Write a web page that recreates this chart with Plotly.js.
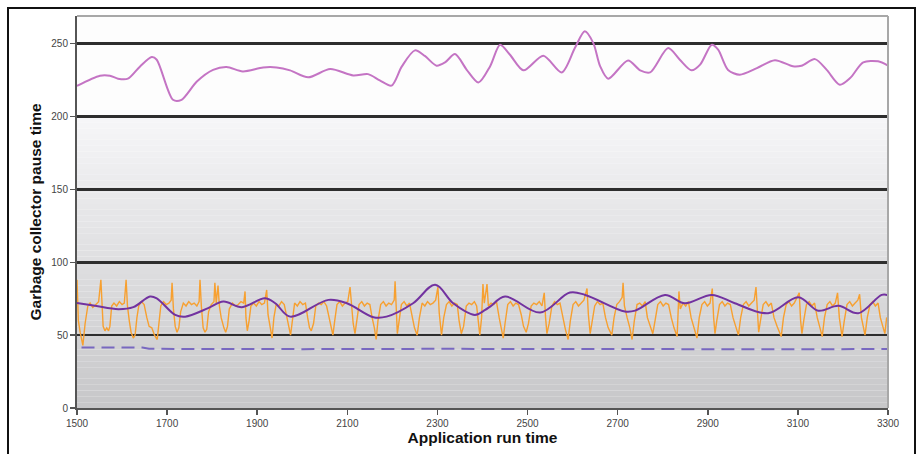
<!DOCTYPE html>
<html>
<head>
<meta charset="utf-8">
<script src="https://cdn.plot.ly/plotly-3.0.1.min.js"></script>
<style>
  html, body { margin: 0; padding: 0; background: #fff; }
  #wrap { position: relative; width: 918px; height: 454px; overflow: hidden; }
  #chart { position: absolute; left: 0; top: 0; width: 918px; height: 454px; }
  #frame { position: absolute; left: 7px; top: 7px; width: 909px; height: 470px;
           border: 2px solid #111; pointer-events: none; box-sizing: border-box; }
</style>
</head>
<body>
<div id="wrap"><div id="chart"></div><div id="frame"></div></div>
<script>
// ---- data ----
const xTicks = [1500, 1700, 1900, 2100, 2300, 2500, 2700, 2900, 3100, 3300];
const yTicks = [0, 50, 100, 150, 200, 250];

const pinkX = [1500,1551,1573,1591,1613,1640,1666,1677,1713,1732,1766,1802,1832,1868,1913,1943,1973,2013,2062,2113,2146,2172,2198,2221,2250,2272,2298,2317,2339,2365,2391,2417,2439,2461,2491,2535,2576,2605,2627,2646,2661,2679,2723,2750,2772,2812,2838,2864,2883,2909,2923,2945,2971,3009,3049,3089,3108,3138,3164,3193,3216,3245,3278,3300];
const pinkY = [221,228,228,226,226,234.4,240.8,239,211.5,211.5,224,232,234,231,233.7,233.7,231.7,226.9,232.6,228.2,229.1,224.8,221.2,234.4,245.4,241.6,234.9,237.2,242.9,232.1,223.4,234.6,249.3,242.4,231.7,241.8,230.3,247,258.5,250.4,234.6,226,238.5,231.7,230.3,247,239,231.7,235.6,249.3,245.9,232,228.7,233.2,238.7,234.5,234.9,239.4,232,221.8,226.4,237.2,237.9,234.9];

const purpleX = [1500,1540,1592,1625,1662,1677,1718,1740,1791,1825,1866,1917,1940,1973,2058,2099,2158,2187,2246,2295,2335,2383,2406,2417,2450,2528,2594,2628,2716,2739,2805,2849,2909,2960,3034,3101,3145,3190,3234,3286,3300];
const purpleY = [72,70.1,67.8,69.2,76.5,75.3,63.9,62.7,68.5,73,69.2,75.3,71.9,62.7,74.2,71.9,62.3,62.7,71.9,84.5,71.9,63.9,67.3,69.6,76.5,65.5,79.2,77.6,66.2,66.8,77.6,71.9,77.6,71.9,65,76,66.8,70.1,65,77.6,77.4];

const dashX = [1510,1580,1645,1660,1800,2000,2300,2600,2900,3100,3300];
const dashY = [41.6,41.6,41.5,40.6,40.4,40.4,40.6,40.4,40.4,40.3,40.5];

const orangeX = [1500,1503,1507,1513,1518,1524,1529,1535,1542,1548,1553,1555,1558,1562,1566,1570,1573,1577,1582,1588,1594,1600,1605,1609,1612,1616,1620,1625,1629,1633,1637,1643,1649,1655,1660,1666,1672,1678,1682,1686,1692,1698,1704,1709,1711,1714,1718,1722,1726,1730,1736,1742,1748,1754,1760,1766,1771,1773,1776,1780,1784,1788,1792,1798,1804,1806,1809,1813,1816,1820,1826,1830,1834,1838,1845,1852,1858,1864,1870,1873,1875,1878,1882,1886,1892,1898,1904,1910,1916,1921,1924,1929,1933,1937,1942,1948,1954,1960,1965,1970,1974,1978,1983,1989,1995,2001,2007,2012,2016,2020,2025,2030,2036,2042,2048,2054,2059,2064,2068,2072,2077,2083,2089,2095,2101,2106,2109,2113,2117,2121,2126,2132,2138,2144,2150,2155,2160,2164,2168,2174,2180,2186,2192,2198,2204,2206,2208,2211,2215,2220,2226,2232,2238,2244,2249,2255,2260,2266,2272,2278,2284,2290,2296,2301,2304,2309,2314,2320,2326,2332,2338,2344,2348,2353,2358,2364,2370,2376,2382,2387,2391,2394,2398,2401,2404,2410,2413,2419,2425,2431,2437,2442,2446,2450,2456,2462,2468,2474,2480,2486,2491,2497,2502,2508,2514,2520,2526,2532,2537,2540,2543,2548,2554,2560,2566,2572,2578,2584,2590,2595,2601,2607,2613,2619,2625,2632,2635,2639,2643,2649,2655,2661,2667,2673,2679,2687,2692,2698,2704,2710,2712,2715,2721,2727,2732,2737,2743,2749,2755,2761,2766,2772,2778,2783,2789,2795,2801,2807,2813,2819,2825,2832,2836,2839,2845,2851,2857,2863,2869,2876,2881,2887,2893,2899,2905,2910,2913,2916,2920,2926,2932,2938,2944,2950,2956,2962,2968,2973,2979,2985,2991,2997,3003,3007,3010,3013,3017,3023,3029,3035,3041,3047,3054,3063,3068,3074,3080,3086,3092,3103,3106,3109,3113,3119,3125,3131,3137,3143,3149,3154,3159,3165,3171,3177,3183,3188,3192,3198,3203,3209,3215,3221,3227,3233,3237,3241,3249,3254,3260,3266,3272,3278,3283,3289,3293,3297,3300];
const orangeY = [88,60,52,43,58,70,72,69,71,73,88,70,56,53,55,53,56,70,72,70,73,71,72,88,70,60,52,48,50,62,70,73,71,62,56,55,50,47,58,70,73,71,72,74,86,68,56,52,55,66,72,70,73,71,72,70,73,88,70,55,52,54,66,71,73,86,72,84,70,62,55,52,56,68,72,70,71,73,72,80,62,53,60,70,72,70,73,71,72,81,64,55,48,62,71,70,73,71,62,56,50,62,72,70,73,71,72,62,55,53,58,70,72,71,73,70,62,54,50,60,71,73,70,72,73,83,70,58,51,60,71,73,70,72,71,62,55,47,60,71,73,70,72,71,74,87,68,51,60,71,73,70,72,62,55,50,62,72,70,73,71,72,74,83,65,50,62,71,73,70,72,71,60,51,56,70,72,71,73,70,58,50,62,85,72,85,70,72,71,73,62,55,48,58,71,73,70,72,71,64,56,52,58,70,72,71,73,70,79,62,51,58,70,73,71,72,62,54,47,60,71,73,70,72,74,82,64,51,58,70,73,71,72,62,55,50,62,71,73,76,86,70,62,55,47,60,71,72,70,73,62,56,51,60,71,73,70,72,71,62,55,49,80,68,72,70,73,62,55,48,62,71,73,70,72,82,62,51,60,71,73,70,72,71,62,56,50,62,71,73,70,72,74,83,62,52,60,71,73,70,72,62,56,49,62,71,73,70,72,79,60,51,60,71,73,70,72,62,55,49,62,71,73,70,72,79,62,49,60,71,73,70,72,74,78,62,50,62,71,73,70,72,62,55,51,62,60];

// ---- background gradient bands (styling only) ----
const shapes = [];
const nBands = 50;
for (let i = 0; i < nBands; i++) {
  const y0 = 200 * i / nBands, y1 = 200 * (i + 1) / nBands;
  const t = (i + 0.5) / nBands;           // 0 at bottom, 1 at 200
  const c = Math.round(199 + (246 - 199) * t);
  shapes.push({type: 'rect', xref: 'x', yref: 'y', layer: 'below', x0: 1500, x1: 3300, y0: y0, y1: y1,
               line: {width: 0}, fillcolor: `rgb(${c},${c},${Math.min(255, c + 2)})`});
}
shapes.push({type: 'rect', xref: 'x', yref: 'y', layer: 'below', x0: 1500, x1: 3300, y0: 200, y1: 269,
             line: {width: 0}, fillcolor: '#fdfdfd'});
// plot border top/right
shapes.push({type: 'line', xref: 'paper', yref: 'paper', x0: 0, x1: 1, y0: 1, y1: 1, line: {color: '#a8a8a8', width: 2}});
shapes.push({type: 'line', xref: 'paper', yref: 'paper', x0: 1, x1: 1, y0: 0, y1: 1, line: {color: '#a8a8a8', width: 2}});

const traces = [
  {x: orangeX, y: orangeY, mode: 'lines', line: {color: '#f7a030', width: 1.4}, hoverinfo: 'skip'},
  {x: purpleX, y: purpleY, mode: 'lines', line: {color: '#7232a0', width: 2, shape: 'spline', smoothing: 1}, hoverinfo: 'skip'},
  {x: dashX, y: dashY, mode: 'lines', line: {color: '#7868c0', width: 2, dash: '13px,7px'}, hoverinfo: 'skip'},
  {x: pinkX, y: pinkY, mode: 'lines', line: {color: '#c474c4', width: 2, shape: 'spline', smoothing: 0.8}, hoverinfo: 'skip'}
];

const tickFont = {family: 'Liberation Sans, Arial, sans-serif', size: 10, color: '#444'};
const layout = {
  width: 918, height: 454,
  margin: {l: 77, r: 30, t: 16, b: 46, pad: 0},
  paper_bgcolor: '#ffffff', plot_bgcolor: '#fdfdfd',
  showlegend: false,
  shapes: shapes,
  xaxis: {
    range: [1500, 3300], tickvals: xTicks, ticktext: xTicks.map(String),
    showgrid: false, zeroline: false,
    showline: true, linecolor: '#555', linewidth: 2,
    ticks: 'outside', ticklen: 5, tickwidth: 1.5, tickcolor: '#555',
    tickfont: tickFont,
    title: {text: 'Application run time', font: {family: 'Liberation Sans, Arial, sans-serif', size: 15.5, color: '#111', weight: 'bold'}, standoff: 4}
  },
  yaxis: {
    range: [0, 269], tickvals: yTicks, ticktext: yTicks.map(String),
    showgrid: true, gridcolor: '#2e2e2e', gridwidth: 2.5, zeroline: false,
    showline: true, linecolor: '#555', linewidth: 2,
    ticks: 'outside', ticklen: 5, tickwidth: 1.5, tickcolor: '#555',
    tickfont: tickFont,
    title: {text: 'Garbage collector pause time', font: {family: 'Liberation Sans, Arial, sans-serif', size: 15.5, color: '#111', weight: 'bold'}, standoff: 6}
  }
};

Plotly.newPlot('chart', traces, layout, {staticPlot: true, displayModeBar: false});
</script>
</body>
</html>
